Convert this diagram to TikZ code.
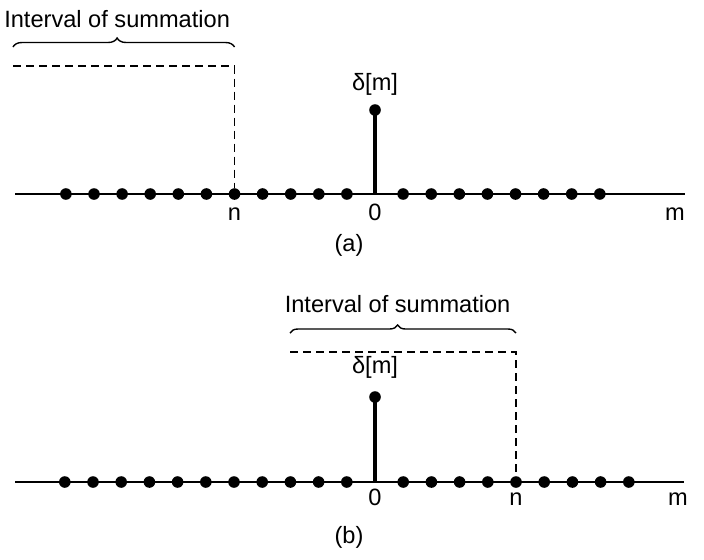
\documentclass[tikz,border=0pt]{standalone}
\usepackage{fontspec}
\setmainfont{Liberation Sans}
\usetikzlibrary{calc,positioning,decorations.pathreplacing}

\begin{document}
\begin{tikzpicture}[x=0.5pt,y=-0.5pt]
    \tikzstyle{every node}=[font=\fontsize{11.8}{14}\selectfont,inner sep=0pt]
    \tikzstyle{dot}=[circle,fill,minimum size=5.8pt]
    \tikzstyle{axis}=[line width=0.9pt]
    \tikzstyle{stem}=[line width=1.7pt]
    \tikzstyle{window}=[line width=0.7pt,dash pattern=on 4pt off 2.5pt]
    \tikzstyle{sumbrace}=[decorate,decoration={brace,amplitude=4.5pt,aspect=0.47},line width=0.7pt]
    \tikzstyle{lbl}=[anchor=base]
    \useasboundingbox (0,0) rectangle (704,559);
    % (a)
    \coordinate (aL) at (15,194);
    \coordinate (aR) at (685,194);
    \draw[axis] (aL) -- (aR);
    \foreach \i in {1,...,11,13,14,...,20}
      \node[dot] (a\i) at (375+28.1*\i-28.1*12,194) {};
    \coordinate (a12) at (375,194);
    \node[dot] (topA) at (375,110) {};
    \draw[stem] (a12) -- (topA.center);
    \node[above=4pt of topA] (deltaA) {δ[m]};
    \coordinate (winA) at (13,66);
    \draw[window] (winA) -| (a7);
    \coordinate (braceAL) at (13,47);
    \coordinate (braceAR) at (braceAL -| a7);
    \draw[sumbrace] (braceAL) -- (braceAR);
    \node[lbl] (sumA) at ($(braceAL)!0.47!(braceAR)+(0,-20)$) {Interval of summation};
    \node[lbl] (nA) at ($(a7)+(0,26)$) {n};
    \node[lbl] (zeroA) at ($(a12)+(0,26)$) {0};
    \node[lbl] (mA) at (675,220) {m};
    \node[lbl] (capA) at (349,251) {(a)};
    % (b)
    \coordinate (bL) at (15,482);
    \coordinate (bR) at (684,482);
    \draw[axis] (bL) -- (bR);
    \foreach \i in {1,...,11,13,14,...,21}
      \node[dot] (b\i) at (375+28.2*\i-28.2*12,482) {};
    \coordinate (b12) at (375,482);
    \node[dot] (topB) at (375,397) {};
    \draw[stem] (b12) -- (topB.center);
    \node[above=6pt of topB] (deltaB) {δ[m]};
    \coordinate (winB) at (290,352);
    \draw[window] (winB) -| (b17);
    \coordinate (braceBL) at (290,333);
    \coordinate (braceBR) at (braceBL -| b17);
    \draw[sumbrace,decoration={amplitude=4pt,aspect=0.476}] (braceBL) -- (braceBR);
    \node[lbl] (sumB) at ($(braceBL)!0.476!(braceBR)+(0,-21)$) {Interval of summation};
    \node[lbl] (nB) at ($(b17)+(0,23)$) {n};
    \node[lbl] (zeroB) at ($(b12)+(0,23)$) {0};
    \node[lbl] (mB) at (678,505) {m};
    \node[lbl] (capB) at (349,543) {(b)};
\end{tikzpicture}
\end{document}
